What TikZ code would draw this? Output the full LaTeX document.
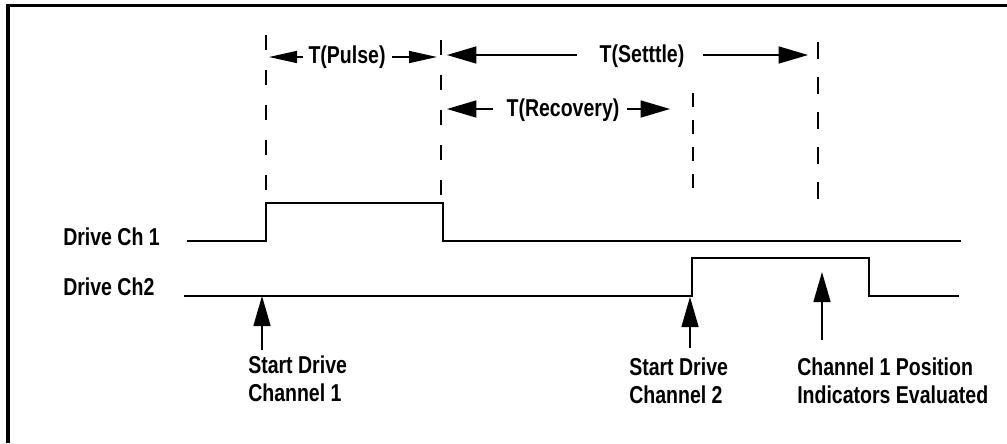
\documentclass[tikz,border=0pt]{standalone}
\usepackage{fontspec}
\setmainfont{Liberation Sans}
\usepackage{graphicx}
\usetikzlibrary{arrows.meta}
\newcommand\cnd[1]{\scalebox{0.8}[1]{#1}}
\begin{document}
\begin{tikzpicture}[x=0.75pt,y=-0.75pt,
 lab/.style={inner sep=0pt, font=\fontsize{18.3}{21}\selectfont\bfseries},
 sig/.style={line width=1.1pt, line join=miter},
 guide/.style={line width=1pt, dash pattern=on 11.25pt off 15pt},
 dimarrow/.style={line width=1.1pt, -{Triangle[length=22pt,width=12.75pt]}},
 smallarrow/.style={line width=1.1pt, -{Triangle[length=21pt,width=9pt]}},
 uparrow/.style={line width=1.1pt, -{Triangle[length=22.5pt,width=12.75pt]}},
 frame/.style={line width=2.6pt}]
\useasboundingbox (0,0) rectangle (1007,443);
% frame (only top and left visible)
\draw[frame] (8,443) -- (8,5.7) -- (1007,5.7);
% guide lines
\draw[guide] (266,35) -- (266,200);
\draw[guide] (441,40) -- (441,200);
\draw[guide, dash pattern=on 10.5pt off 9.75pt] (693,93) -- (693,190);
\draw[guide, dash pattern=on 12.75pt off 13.5pt] (818,42) -- (818,200);
% signal Ch 1
\coordinate (c1a) at (187,241);
\coordinate (c1b) at (266,241);
\coordinate (c1c) at (266,203);
\coordinate (c1d) at (443,203);
\coordinate (c1e) at (443,241);
\coordinate (c1f) at (961,241);
\draw[sig] (c1a) -- (c1b) -- (c1c) -- (c1d) -- (c1e) -- (c1f);
% signal Ch 2
\coordinate (c2a) at (184,296);
\coordinate (c2b) at (692,296);
\coordinate (c2c) at (692,258);
\coordinate (c2d) at (869,258);
\coordinate (c2e) at (869,296);
\coordinate (c2f) at (959,296);
\draw[sig] (c2a) -- (c2b) -- (c2c) -- (c2d) -- (c2e) -- (c2f);
% signal labels
\node[lab, anchor=base west] (dch1) at (63,245) {\cnd{Drive Ch 1}};
\node[lab, anchor=base west] (dch2) at (63,295) {\cnd{Drive Ch2}};
% interval labels
\node[lab, anchor=base] (tpulse) at (347,63) {\cnd{T(Pulse)}};
\node[lab, anchor=base] (tsettle) at (642,62) {\cnd{T(Setttle)}};
\node[lab, anchor=base] (trec) at (563,116) {\cnd{T(Recovery)}};
% interval arrows
\coordinate (pL0) at (303,57); \coordinate (pL) at (269,57);
\coordinate (pR0) at (392,57); \coordinate (pR) at (437,57);
\draw[smallarrow] (pL0) -- (pL);
\draw[smallarrow] (pR0) -- (pR);
\coordinate (sL0) at (577,55); \coordinate (sL) at (447,55);
\coordinate (sR0) at (703,55); \coordinate (sR) at (808,55);
\draw[dimarrow] (sL0) -- (sL);
\draw[dimarrow] (sR0) -- (sR);
\coordinate (rL0) at (493,109); \coordinate (rL) at (447,109);
\coordinate (rR0) at (627,109); \coordinate (rR) at (670,109);
\draw[dimarrow] (rL0) -- (rL);
\draw[dimarrow] (rR0) -- (rR);
% event labels
\node[lab, anchor=base west] (sd1) at (248,373) {\begin{tabular}[t]{@{}l@{}}\cnd{Start Drive}\\\cnd{Channel 1}\end{tabular}};
\node[lab, anchor=base west] (sd2) at (629,375) {\begin{tabular}[t]{@{}l@{}}\cnd{Start Drive}\\\cnd{Channel 2}\end{tabular}};
\node[lab, anchor=base west] (eval) at (797,375) {\begin{tabular}[t]{@{}l@{}}\cnd{Channel 1 Position}\\\cnd{Indicators Evaluated}\end{tabular}};
% event arrows
\coordinate (a1s) at (262,350); \coordinate (a1t) at (262,296);
\coordinate (a2s) at (690,348); \coordinate (a2t) at (690,297);
\coordinate (a3s) at (822,340); \coordinate (a3t) at (822,272);
\draw[uparrow] (a1s) -- (a1t);
\draw[uparrow] (a2s) -- (a2t);
\draw[uparrow] (a3s) -- (a3t);
\end{tikzpicture}
\end{document}
